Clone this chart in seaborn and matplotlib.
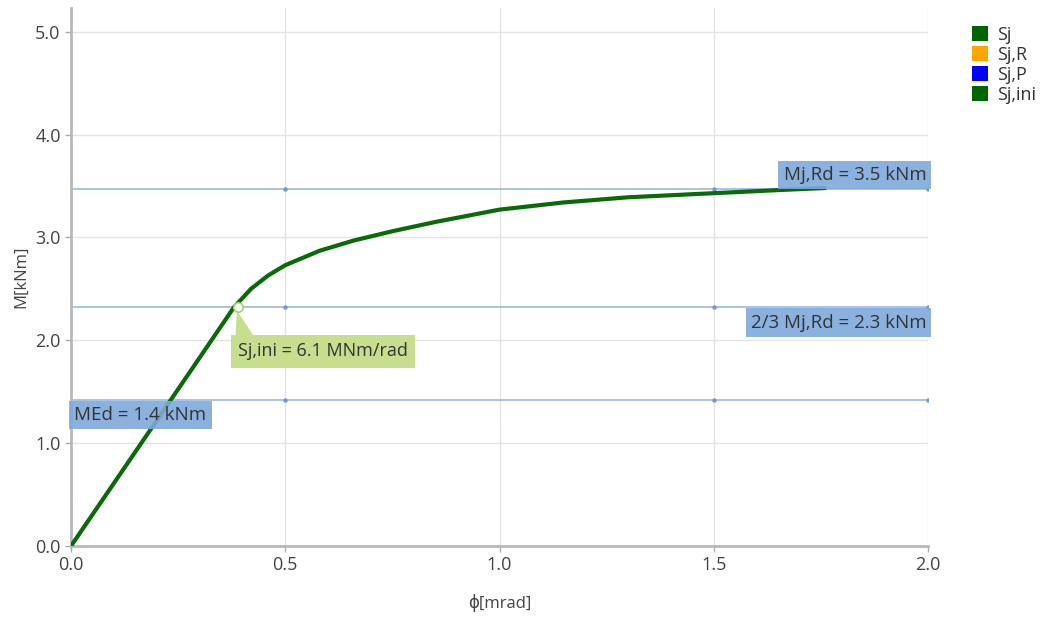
import numpy as np
import pandas as pd
import matplotlib
matplotlib.use("Agg")
import matplotlib.pyplot as plt
import seaborn as sns
from matplotlib.patches import Patch, Polygon

# ---- data ----
phi = [0.0, 0.10, 0.20, 0.30, 0.38, 0.42, 0.46, 0.50, 0.58, 0.66, 0.75, 0.85, 1.00, 1.15, 1.30, 1.50, 1.65, 1.76]
moment = [0.0, 0.61, 1.22, 1.83, 2.32, 2.50, 2.63, 2.73, 2.87, 2.97, 3.06, 3.15, 3.27, 3.34, 3.39, 3.43, 3.46, 3.48]

sj_ini_phi = 0.39
sj_ini_m = 2.32

mj_rd = 3.47
mj_rd_23 = 2.32
m_ed = 1.42

ref_lines = [mj_rd, mj_rd_23, m_ed]
ref_dots_x = [0.5, 1.5, 2.0]

legend_names = ["Sj", "Sj,R", "Sj,P", "Sj,ini"]
legend_colors = ["#006400", "#FFA500", "#0000FF", "#006400"]

x_ticks = [0.0, 0.5, 1.0, 1.5, 2.0]
y_ticks = [0.0, 1.0, 2.0, 3.0, 4.0, 5.0]

# ---- style ----
sns.set_theme(style="white")
plt.rcParams['font.family'] = ['Open Sans', 'DejaVu Sans']

fig = plt.figure(figsize=(10.48, 6.19), dpi=100)
ax = fig.add_axes([0.0678, 0.118, 0.8177, 0.869])

grid_c = "#e3e3e3"
for xv in x_ticks[1:]:
    ax.axvline(xv, color=grid_c, lw=1.0, zorder=0)
for yv in y_ticks[1:]:
    ax.axhline(yv, color=grid_c, lw=1.0, zorder=0)

line_c = "#8fb3e0"
for yv in ref_lines:
    ax.axhline(yv, color=line_c, lw=1.1, zorder=1)
    ax.scatter(ref_dots_x, [yv] * len(ref_dots_x), s=5, color="#6f9ad4", zorder=2)

df = pd.DataFrame({"phi": phi, "M": moment})
sns.lineplot(data=df, x="phi", y="M", ax=ax, color="#0a6a0a", lw=3, zorder=3)

ax.scatter([sj_ini_phi], [sj_ini_m], s=45, facecolor="white", edgecolor="#a8d070", lw=1.2, zorder=6)

box_blue = dict(boxstyle="square,pad=0.27", facecolor="#7fa9dc", edgecolor="none", alpha=0.9)
txt_c = "#333333"
fs = 13.5
ax.text(1.996, mj_rd + 0.05, "Mj,Rd = 3.5 kNm", ha="right", va="bottom", fontsize=fs,
        color=txt_c, bbox=box_blue, zorder=4)
ax.text(1.996, mj_rd_23 - 0.06, "2/3 Mj,Rd = 2.3 kNm", ha="right", va="top", fontsize=fs,
        color=txt_c, bbox=box_blue, zorder=4)
ax.text(0.008, m_ed - 0.06, "MEd = 1.4 kNm", ha="left", va="top", fontsize=fs,
        color=txt_c, bbox=box_blue, zorder=4)

# Sj,ini callout: small pointer from marker down to a green label box
green = "#c5df8e"
box_top = sj_ini_m - 0.27
ax.add_patch(Polygon([(sj_ini_phi - 0.003, sj_ini_m - 0.03),
                      (sj_ini_phi - 0.006, box_top),
                      (sj_ini_phi + 0.035, box_top)],
                     closed=True, facecolor=green, edgecolor="none", zorder=4))
ax.text(sj_ini_phi - 0.0, box_top - 0.07, "Sj,ini = 6.1 MNm/rad", ha="left", va="top",
        fontsize=13, color=txt_c,
        bbox=dict(boxstyle="square,pad=0.4", facecolor=green, edgecolor="none"), zorder=5)

ax.set_xlim(0, 2.0)
ax.set_ylim(0, 5.23)
ax.set_xticks(x_ticks)
ax.set_yticks(y_ticks)
ax.set_xticklabels([f"{v:.1f}" for v in x_ticks])
ax.set_yticklabels([f"{v:.1f}" for v in y_ticks])
ax.tick_params(axis="both", labelsize=13, colors="#444444", length=4, width=1, direction="out",
               bottom=True, left=True, color="#aaaaaa")
ax.set_xlabel("ϕ[mrad]", fontsize=12, color="#444444", labelpad=14)
ax.set_ylabel("M[kNm]", fontsize=12, color="#444444", labelpad=4)

for side in ["top", "right"]:
    ax.spines[side].set_visible(False)
for side in ["left", "bottom"]:
    ax.spines[side].set_color("#b8b8b8")
    ax.spines[side].set_linewidth(2)

handles = [Patch(facecolor=c, edgecolor="none", label=n) for n, c in zip(legend_names, legend_colors)]
fig.legend(handles=handles, loc="upper left", bbox_to_anchor=(0.912, 0.985), frameon=False,
           fontsize=13, handlelength=0.9, handleheight=0.9, handletextpad=0.5,
           labelspacing=0.12, labelcolor="#333333")

fig.savefig("out.png", dpi=100)
